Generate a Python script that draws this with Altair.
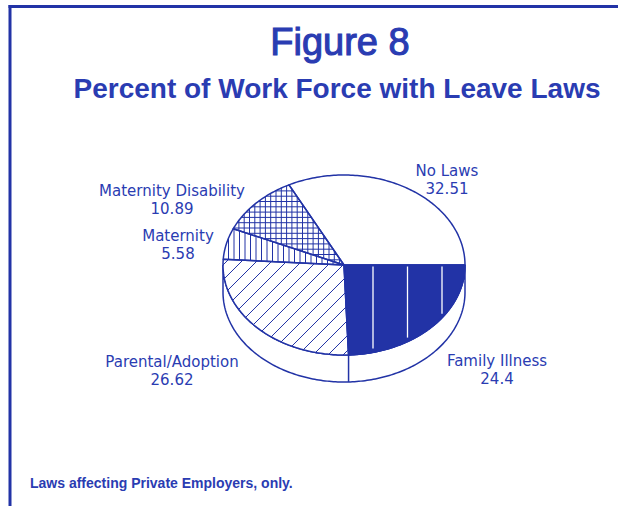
import numpy as np
import pandas as pd
import altair as alt

# ---------------- data ----------------
categories = ["Family Illness", "Parental/Adoption", "Maternity", "Maternity Disability", "No Laws"]
values = [24.4, 26.62, 5.58, 10.89, 32.51]
value_labels = ["24.4", "26.62", "5.58", "10.89", "32.51"]
title_text = "Figure 8"
subtitle_text = "Percent of Work Force with Leave Laws"
footnote_text = "Laws affecting Private Employers, only."

# ---------------- layout / style ----------------
W, H = 618, 506
CX, CY, RX, RY, DEPTH = 344, 265, 121, 90, 27
BLUE = "#2233a6"
TEXT_BLUE = "#2a3cb2"
LABEL_FONT = "DejaVu Sans"
TITLE_FONT = "Liberation Sans"
label_pos = {
    "Family Illness": (497, 366),
    "Parental/Adoption": (172, 367),
    "Maternity": (178, 241),
    "Maternity Disability": (172, 196),
    "No Laws": (447, 176),
}
LINE_GAP = 18
DZ = DEPTH / RY

xs = alt.Scale(domain=[-1, 1], range=[CX - RX, CX + RX], nice=False, zero=False)
ys = alt.Scale(domain=[-1, 1], range=[CY - RY, CY + RY], nice=False, zero=False)


def X(f="x"):
    return alt.X(f"{f}:Q", scale=xs, axis=None)


def Y(f="y"):
    return alt.Y(f"{f}:Q", scale=ys, axis=None)


# ---------------- geometry derived from the values ----------------
bounds = np.concatenate([[0.0], np.cumsum(values)]) / sum(values) * 2 * np.pi

rows = []
for i, cat in enumerate(categories):
    t0, t1 = bounds[i], bounds[i + 1]
    n = max(6, int(np.degrees(t1 - t0)))
    ts = np.linspace(t0, t1, n)
    pts = [(0.0, 0.0)] + [(np.cos(t), np.sin(t)) for t in ts] + [(0.0, 0.0)]
    for k, (x, y) in enumerate(pts):
        rows.append(dict(cat=cat, x=x, y=y, ord=k))
wedges = pd.DataFrame(rows)

ts = np.linspace(0, np.pi, 181)
side_pts = ([(np.cos(t), np.sin(t)) for t in ts]
            + [(np.cos(t), np.sin(t) + DZ) for t in ts[::-1]]
            + [(1.0, 0.0)])
side = pd.DataFrame([dict(x=x, y=y, ord=k) for k, (x, y) in enumerate(side_pts)])

side_edges = pd.DataFrame([dict(x=np.cos(b), y=np.sin(b), x2=np.cos(b), y2=np.sin(b) + DZ)
                           for b in bounds[1:-1] if 0 < b < np.pi])


def cross(a, b):
    return a[0] * b[1] - a[1] * b[0]


def clip(p0, d, t0, t1):
    p0 = np.array(p0, float)
    d = np.array(d, float)
    a = d @ d
    b = p0 @ d
    c = p0 @ p0 - 1
    disc = b * b - a * c
    if disc <= 0:
        return None
    s = np.sqrt(disc)
    lo, hi = (-b - s) / a, (-b + s) / a
    u1 = np.array([np.cos(t0), np.sin(t0)])
    u2 = np.array([np.cos(t1), np.sin(t1)])
    for A, B in [(cross(u1, p0), cross(u1, d)), (cross(p0, u2), cross(d, u2))]:
        if abs(B) < 1e-12:
            if A < 0:
                return None
        elif B > 0:
            lo = max(lo, -A / B)
        else:
            hi = min(hi, -A / B)
    if hi <= lo:
        return None
    return lo, hi


def hatch(idx, kind, positions, trim_lo=0.0, trim_hi=0.0):
    t0, t1 = bounds[idx], bounds[idx + 1]
    out = []
    for c in positions:
        if kind == "v":
            p0, d = (c / RX, 0.0), (0.0, 1.0 / RY)
        elif kind == "h":
            p0, d = (0.0, c / RY), (1.0 / RX, 0.0)
        else:  # diagonal "/"
            p0, d = (0.0, c / RY), (1.0 / RX, -1.0 / RY)
        r = clip(p0, d, t0, t1)
        if r is None:
            continue
        lo, hi = r[0] + trim_lo, r[1] - trim_hi
        if hi <= lo:
            continue
        out.append(dict(x=p0[0] + lo * d[0], y=p0[1] + lo * d[1],
                        x2=p0[0] + hi * d[0], y2=p0[1] + hi * d[1]))
    return out


blue_hatch = []
blue_hatch += hatch(1, "d", np.arange(-RX - RY, RX + RY, 15.0))
blue_hatch += hatch(2, "v", np.arange(-RX, RX, 5.5))
blue_hatch += hatch(3, "v", np.arange(-RX, RX, 5.3))
blue_hatch += hatch(3, "h", np.arange(-RY, RY, 5.3))
blue_hatch = pd.DataFrame(blue_hatch)
white_hatch = pd.DataFrame(hatch(0, "v", np.arange(29, RX, 34.5), trim_lo=1.5, trim_hi=4.0))

labels = pd.DataFrame({"cat": categories, "name": categories, "val": value_labels})
dummy = pd.DataFrame({"a": [0]})

# ---------------- layers ----------------
frame_left = alt.Chart(dummy).mark_rule(color=BLUE, strokeWidth=3).encode(
    x=alt.value(10), y=alt.value(5), y2=alt.value(H))
frame_top = alt.Chart(dummy).mark_rule(color=BLUE, strokeWidth=3).encode(
    x=alt.value(8.5), x2=alt.value(W), y=alt.value(6.5))

side_layer = alt.Chart(side).mark_line(fill="white", stroke=BLUE, strokeWidth=1.5).encode(
    x=X(), y=Y(), order="ord:Q")
side_edge_layer = alt.Chart(side_edges).mark_rule(color=BLUE, strokeWidth=1.5).encode(
    x=X(), y=Y(), x2="x2:Q", y2="y2:Q")

fill_white = alt.Chart(wedges[wedges.cat != "Family Illness"]).mark_line(
    fill="white", strokeOpacity=0).encode(x=X(), y=Y(), detail="cat:N", order="ord:Q")
fill_blue = alt.Chart(wedges[wedges.cat == "Family Illness"]).mark_line(
    fill=BLUE, stroke=BLUE, strokeWidth=1).encode(x=X(), y=Y(), detail="cat:N", order="ord:Q")

blue_hatch_layer = alt.Chart(blue_hatch).mark_rule(color=BLUE, strokeWidth=1).encode(
    x=X(), y=Y(), x2="x2:Q", y2="y2:Q")
white_hatch_layer = alt.Chart(white_hatch).mark_rule(color="white", strokeWidth=1.3).encode(
    x=X(), y=Y(), x2="x2:Q", y2="y2:Q")

outline = alt.Chart(wedges).mark_line(stroke=BLUE, strokeWidth=1.5, strokeJoin="round").encode(
    x=X(), y=Y(), detail="cat:N", order="ord:Q")

label_layers = []
for cat in categories:
    px, py = label_pos[cat]
    for field, dy in (("name", 0), ("val", LINE_GAP)):
        label_layers.append(
            alt.Chart(labels).transform_filter(alt.datum.cat == cat).mark_text(
                font=LABEL_FONT, fontSize=15, color=TEXT_BLUE, align="center",
                baseline="alphabetic"
            ).encode(text=f"{field}:N", x=alt.value(px), y=alt.value(py + dy))
        )

titles = pd.DataFrame({"title": [title_text], "subtitle": [subtitle_text], "foot": [footnote_text]})
title_layer = alt.Chart(titles).mark_text(
    font=TITLE_FONT, fontSize=38, color=TEXT_BLUE, stroke=TEXT_BLUE, strokeWidth=1.1,
    align="center", baseline="alphabetic"
).encode(text="title:N", x=alt.value(340), y=alt.value(55))
subtitle_layer = alt.Chart(titles).mark_text(
    font=TITLE_FONT, fontSize=28, fontWeight="bold", color=TEXT_BLUE, align="center",
    baseline="alphabetic"
).encode(text="subtitle:N", x=alt.value(337), y=alt.value(98))
foot_layer = alt.Chart(titles).mark_text(
    font=TITLE_FONT, fontSize=14, fontWeight="bold", color=TEXT_BLUE, align="left",
    baseline="alphabetic"
).encode(text="foot:N", x=alt.value(30), y=alt.value(488))

chart = alt.layer(
    frame_left, frame_top, side_layer, side_edge_layer, fill_white, fill_blue,
    blue_hatch_layer, white_hatch_layer, outline, *label_layers,
    title_layer, subtitle_layer, foot_layer
).properties(
    width=W, height=H, padding=0, autosize=alt.AutoSizeParams(type="none"),
    background="white"
).configure_view(stroke=None)

chart.save("out.html", embed_options={"renderer": "svg", "actions": False})
